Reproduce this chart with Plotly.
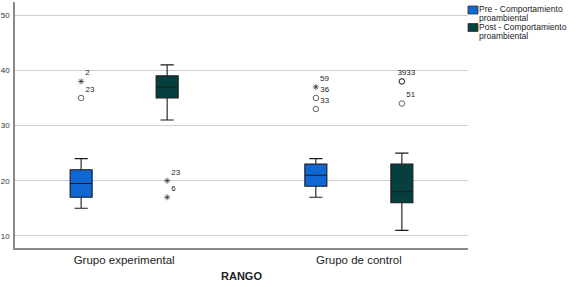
import plotly.graph_objects as go

categories = ["Grupo experimental", "Grupo de control"]
series_names = ["Pre - Comportamiento proambiental", "Post - Comportamiento proambiental"]

pre_lower = [15, 17]
pre_q1 = [17, 19]
pre_median = [19.5, 21]
pre_q3 = [22, 23]
pre_upper = [24, 24]

post_lower = [31, 11]
post_q1 = [35, 16]
post_median = [37, 18]
post_q3 = [39, 23]
post_upper = [41, 25]

# outliers: category, value, case label, kind
pre_out_cat = ["Grupo experimental", "Grupo experimental", "Grupo de control", "Grupo de control", "Grupo de control"]
pre_out_val = [38, 35, 37, 35, 33]
pre_out_lab = ["2", "23", "59", "36", "33"]
pre_out_kind = ["extreme", "outlier", "extreme", "outlier", "outlier"]
pre_out_textpos = ["top right"] * 5

post_out_cat = ["Grupo experimental", "Grupo experimental", "Grupo de control", "Grupo de control", "Grupo de control"]
post_out_val = [20, 17, 38, 38, 34]
post_out_lab = ["23", "6", "39", "33", "51"]
post_out_kind = ["extreme", "extreme", "outlier", "outlier", "outlier"]
post_out_textpos = ["top right", "top right", "top center", "top right", "top right"]

y_ticks = [10, 20, 30, 40, 50]

pre_color = "#0f67d4"
post_color = "#05403f"
BOXGAP = 0.267
BOXGROUPGAP = 0.744
X_RANGE = [-0.465, 1.465]

FONT = "Liberation Sans, Arial, sans-serif"

fig = go.Figure()

fig.add_trace(go.Box(
    name=series_names[0], x=categories, q1=pre_q1, median=pre_median, q3=pre_q3,
    lowerfence=pre_lower, upperfence=pre_upper, fillcolor=pre_color,
    line=dict(color="#1a1a1a", width=1.1), whiskerwidth=0.6, boxpoints=False,
    showlegend=False, hoverinfo="skip"))
fig.add_trace(go.Box(
    name=series_names[1], x=categories, q1=post_q1, median=post_median, q3=post_q3,
    lowerfence=post_lower, upperfence=post_upper, fillcolor=post_color,
    line=dict(color="#1a1a1a", width=1.1), whiskerwidth=0.6, boxpoints=False,
    showlegend=False, hoverinfo="skip"))

symbol_map = {"extreme": "asterisk-open", "outlier": "circle-open"}
size_map = {"extreme": 5, "outlier": 5.5}

# group offset of each series inside a category (same rule plotly uses for grouped boxes)
n_series = 2
def group_offset(k):
    return 2 * 0.5 * (-0.5 + (k + 0.5) / n_series) * (1 - BOXGAP)

def outlier_trace(cats, vals, labs, kinds, textpos, k):
    return go.Scatter(
        x=[categories.index(c) + group_offset(k) for c in cats], y=vals,
        mode="markers+text", text=labs, textposition=textpos,
        textfont=dict(family=FONT, size=8, color="#222"),
        marker=dict(symbol=[symbol_map[t] for t in kinds], size=[size_map[t] for t in kinds],
                    color="#222", line=dict(color="#222", width=1)),
        showlegend=False, hoverinfo="skip", xaxis="x2", cliponaxis=False)

fig.add_trace(outlier_trace(pre_out_cat, pre_out_val, pre_out_lab, pre_out_kind, pre_out_textpos, 0))
fig.add_trace(outlier_trace(post_out_cat, post_out_val, post_out_lab, post_out_kind, post_out_textpos, 1))

fig.update_layout(
    width=582, height=287,
    margin=dict(l=15, r=114, t=2, b=39),
    paper_bgcolor="white", plot_bgcolor="white",
    boxmode="group", boxgap=BOXGAP, boxgroupgap=BOXGROUPGAP,
    font=dict(family=FONT, color="#222"),
    xaxis=dict(type="category", categoryorder="array", categoryarray=categories,
               range=X_RANGE, showgrid=False, showline=True, linecolor="#8a8a8a", linewidth=1.5,
               ticks="", tickfont=dict(size=11.5, color="#222"), automargin=False,
               title=dict(text="<b>RANGO</b>", font=dict(size=11, color="#222"), standoff=8)),
    xaxis2=dict(overlaying="x", range=X_RANGE, visible=False),
    yaxis=dict(range=[7.8, 52.4], tickvals=y_ticks, showgrid=True, gridcolor="#cfcfcf", gridwidth=1.2,
               showline=True, linecolor="#8a8a8a", linewidth=1.5, zeroline=False, ticks="",
               tickfont=dict(size=8, color="#333"), ticklabelstandoff=2, automargin=False),
)

# legend drawn at the right of the plot
legend_items = [("Pre - Comportamiento", "proambiental", pre_color), ("Post - Comportamiento", "proambiental", post_color)]
H = 287 - 2 - 39
W = 582 - 15 - 114
for i, (l1, l2, col) in enumerate(legend_items):
    top = 3 + i * 17.5  # px from plot top
    fig.add_shape(type="rect", xref="paper", yref="paper",
                  x0=(468 - 15) / W, x1=(478 - 15) / W,
                  y0=1 - (top + 9) / H, y1=1 - (top + 1) / H, fillcolor=col, line=dict(color="#333", width=0.8))
    for j, t in enumerate([l1, l2]):
        fig.add_annotation(xref="paper", yref="paper", x=(478 - 15) / W, y=1 - (top - 2 + j * 9) / H,
                           text=t, showarrow=False, xanchor="left", yanchor="top", borderpad=0,
                           font=dict(size=8.5, color="#222"))

fig.write_html("out.html", config={"displayModeBar": False},
               post_script="document.body.style.margin='0';")
